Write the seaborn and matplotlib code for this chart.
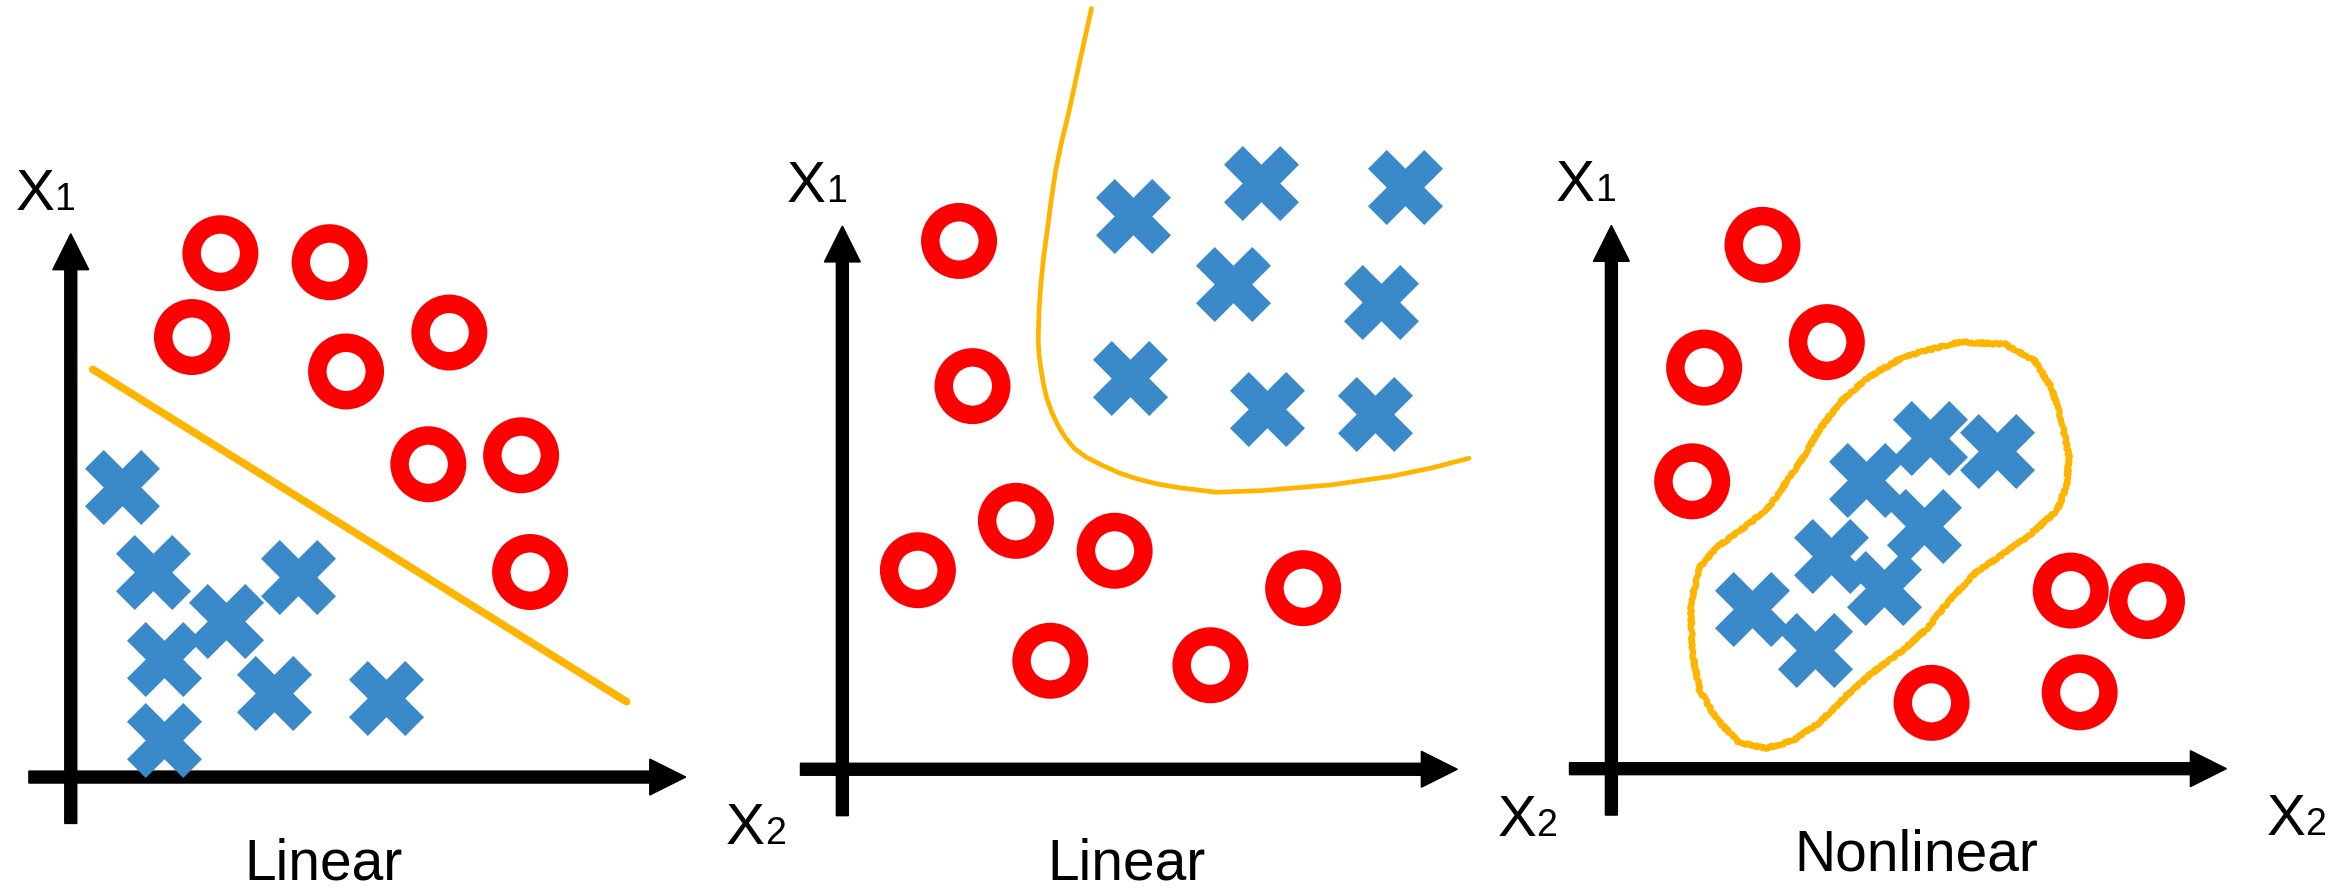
import matplotlib
matplotlib.use("Agg")
import matplotlib.pyplot as plt
import seaborn as sns

# panel coordinates: x2 to the right, x1 upward, origin where the axes cross
# panel 1 - linear, straight boundary
p1_circle_x2 = [100, 173, 81, 184, 253, 239, 301, 307]
p1_circle_x1 = [350, 344, 294, 271, 297, 209, 215, 137]
p1_cross_x2 = [34, 55, 152, 104, 62, 136, 211, 62]
p1_cross_x1 = [194, 137, 134, 104.5, 79, 56, 52.5, 25]
p1_bound_x2 = [14.7, 371.5]
p1_bound_x1 = [272.4, 50.3]

# panel 2 - linear, curved boundary
p2_circle_x2 = [78, 87, 116, 50.5, 182, 139, 246, 308]
p2_circle_x1 = [353, 256, 166, 133, 146, 72.5, 69.5, 121]
p2_cross_x2 = [194, 280, 376, 261, 360, 192, 284, 356]
p2_cross_x1 = [370, 392, 389, 324.5, 312, 261.5, 241, 237.5]
p2_bound_x2 = [166.5, 158.5, 151.2, 146.5, 142.6, 139.7, 137.3, 134.6, 132.7, 131.4,
               130.9, 131.5, 132.7, 134.3, 136.4, 139.8, 144.1, 148.8, 154.8, 163.0,
               173.3, 185.0, 197.8, 211.0, 225.4, 250, 280.7, 326.7, 366.6, 394.2,
               418.8]
p2_bound_x1 = [508.3, 472.0, 438.2, 419.0, 400.3, 381.0, 362.4, 343.0, 324.5, 305.5,
               286.6, 277.0, 267.7, 258.0, 248.7, 239.0, 229.8, 222.0, 214.6, 208.5,
               203.3, 198.0, 193.8, 190.5, 188.1, 185.1, 186.2, 190, 195.7, 201.4,
               207.8]

# panel 3 - nonlinear, closed boundary
p3_circle_x2 = [101, 144, 62, 54, 307, 358, 214, 313]
p3_circle_x1 = [350, 285, 268, 192, 119, 112, 44, 51]
p3_cross_x2 = [213, 258, 170, 209, 147, 182, 94, 136]
p3_cross_x1 = [221, 212, 193, 162, 142, 121, 107, 79]
p3_bound_x2 = [232.5, 263, 283, 294, 301, 306, 304, 298, 280, 262, 244, 226, 211,
               193, 175, 157, 139, 121, 103, 85, 70, 59, 54, 53, 59, 70, 92, 106,
               117, 128, 139, 153.5, 172, 196, 232.5]
p3_bound_x1 = [285, 283.6, 272.6, 254.6, 232.6, 207.6, 188.6, 172.6, 156.6, 143.6,
               131.6, 112.6, 93.6, 77.6, 64.6, 48.6, 30.6, 18.6, 13.6, 17.6, 33.6,
               52.6, 77.6, 109.6, 134.6, 147.6, 163.6, 175.6, 191.6, 207.6, 226.6,
               245.6, 261.6, 275.6, 285]

titles = ["Linear", "Linear", "Nonlinear"]
title_pos = [(168.8, -68.5), (189.8, -73.5), (204, -68)]
origins = [(47.3, 519.2), (563, 514), (1077, 513.6)]

RED = "#FF0000"
BLUE = "#3A89C9"
ORANGE = "#FFB400"
FONT = ["Liberation Sans", "DejaVu Sans"]
W, H = 1568, 594


def draw_panel(ax, origin, circles, crosses, bound, title, tpos,
               bound_lw=4.5, sketch=False):
    ox, oy = origin
    ax.set_xlim(-ox, W - ox)
    ax.set_ylim(oy - H, oy)
    ax.set_axis_off()

    # axes as arrows
    ax.arrow(-28, 0, 439, 0, width=8, head_width=24, head_length=24,
             length_includes_head=True, color="black", zorder=1)
    ax.arrow(0, -31, 0, 394, width=8, head_width=24, head_length=24,
             length_includes_head=True, color="black", zorder=1)

    sns.lineplot(x=bound[0], y=bound[1], sort=False, estimator=None,
                 color=ORANGE, linewidth=bound_lw, ax=ax, zorder=2)
    if sketch:
        ax.lines[-1].set_sketch_params(scale=1.0, length=8, randomness=6)

    sns.scatterplot(x=crosses[0], y=crosses[1], marker="X", s=2916,
                    color=BLUE, linewidth=0, ax=ax, zorder=3)
    sns.scatterplot(x=circles[0], y=circles[1], marker="o", s=1714,
                    color=RED, linewidth=13.3, ax=ax, zorder=4)
    ring = ax.collections[-1]
    ring.set_facecolor("none")
    ring.set_edgecolor(RED)

    # axis labels with small digits on the baseline
    txt = dict(family=FONT, color="black", ha="left", va="baseline")
    ax.text(-37, 379, "X", fontsize=42, **txt)
    ax.text(-11, 379, "1", fontsize=27, **txt)
    ax.text(438, -44.6, "X", fontsize=42, **txt)
    ax.text(464, -44.6, "2", fontsize=27, **txt)

    ax.text(tpos[0], tpos[1], title, fontsize=41, family=FONT, color="black",
            ha="center", va="baseline")


if __name__ == "__main__":
    sns.set_style("white")
    fig = plt.figure(figsize=(23.46, 8.89), dpi=100)

    panels = [
        ((p1_circle_x2, p1_circle_x1), (p1_cross_x2, p1_cross_x1),
         (p1_bound_x2, p1_bound_x1), 5.5, False),
        ((p2_circle_x2, p2_circle_x1), (p2_cross_x2, p2_cross_x1),
         (p2_bound_x2, p2_bound_x1), 3.4, False),
        ((p3_circle_x2, p3_circle_x1), (p3_cross_x2, p3_cross_x1),
         (p3_bound_x2, p3_bound_x1), 4.3, True),
    ]
    for i, (circ, cross, bound, lw, sk) in enumerate(panels):
        ax = fig.add_axes([0, 0, 1, 1])
        ax.patch.set_alpha(0)
        draw_panel(ax, origins[i], circ, cross, bound, titles[i],
                   title_pos[i], bound_lw=lw, sketch=sk)

    fig.savefig("out.png", dpi=100, facecolor="white")
    plt.close(fig)
